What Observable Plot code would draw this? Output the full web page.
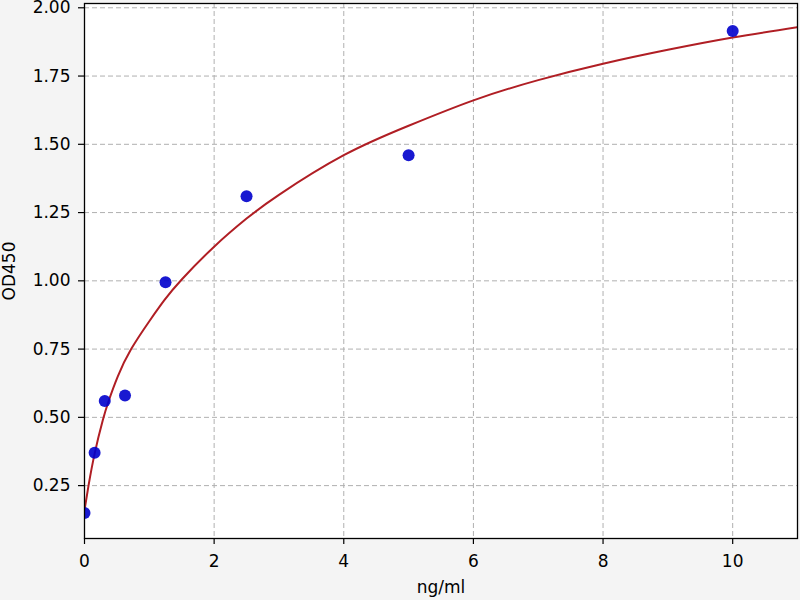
<!DOCTYPE html>
<html>
<head>
<meta charset="utf-8">
<script src="https://cdn.jsdelivr.net/npm/d3@7"></script>
<script src="https://cdn.jsdelivr.net/npm/@observablehq/plot@0.6"></script>
<style>
  html, body { margin: 0; padding: 0; background: #f4f4f4; }
  #chart { width: 800px; height: 600px; }
</style>
</head>
<body>
<div id="chart"></div>
<script>
// ---------- data ----------
const conc = [0, 0.156, 0.3125, 0.625, 1.25, 2.5, 5, 10];          // ng/ml standards
const od   = [0.15, 0.37, 0.56, 0.58, 0.995, 1.31, 1.46, 1.915];  // measured OD450

// fitted curve at these x positions
const fitX = [0, 0.062, 0.159, 0.283, 0.37, 0.514, 0.72, 1.0, 1.235, 1.5, 2.0, 2.5, 3.0, 4, 5, 6, 7, 8, 9, 10, 11];
const fitY = [0.16, 0.25, 0.37, 0.49, 0.558, 0.65, 0.75, 0.852, 0.93, 1.005, 1.125, 1.228, 1.315, 1.46, 1.568, 1.661, 1.735, 1.795, 1.846, 1.891, 1.929];

const xTicks = [0, 2, 4, 6, 8, 10];
const yTicks = [0.25, 0.5, 0.75, 1.0, 1.25, 1.5, 1.75, 2.0];

// ---------- build ----------
const points = conc.map((x, i) => ({ x, y: od[i] }));
const fit = fitX.map((x, i) => ({ x, y: fitY[i] }));

const grid = { stroke: "#b0b0b0", strokeOpacity: 1, strokeWidth: 1, strokeDasharray: "5,3" };

const fig = Plot.plot({
  width: 800, height: 600,
  marginLeft: 84, marginRight: 3, marginTop: 3, marginBottom: 62,
  style: { background: "#f4f4f4", fontFamily: "DejaVu Sans", fontSize: "17px", color: "black" },
  x: { domain: [0, 11], label: null },
  y: { domain: [0.0563, 2.0157], label: null },
  marks: [
    Plot.frame({ fill: "white", stroke: null }),
    Plot.gridX(xTicks, { ...grid }),
    Plot.gridY(yTicks, { ...grid }),
    Plot.line(fit, { x: "x", y: "y", stroke: "#b01e24", strokeWidth: 2, curve: "natural", clip: true }),
    Plot.dot(points, { x: "x", y: "y", r: 6, fill: "#0000cc", fillOpacity: 0.9, stroke: "none", clip: true }),
    Plot.axisX(xTicks, { tickSize: 6, tickPadding: 10, stroke: "black", strokeWidth: 1.2, fontSize: 17 }),
    Plot.axisY(yTicks, { tickSize: 6, tickPadding: 8, tickFormat: d3.format(".2f"), stroke: "black", strokeWidth: 1.2, fontSize: 17 }),
    Plot.frame({ stroke: "black", strokeWidth: 1.3 }),
    Plot.text(["ng/ml"], { frameAnchor: "bottom", dy: 42, fontSize: 17, fill: "black", lineAnchor: "top" }),
    Plot.text(["OD450"], { frameAnchor: "left", dx: -75, rotate: -90, textAnchor: "middle", fontSize: 17, fill: "black" })
  ]
});
document.getElementById("chart").appendChild(fig);
</script>
</body>
</html>
